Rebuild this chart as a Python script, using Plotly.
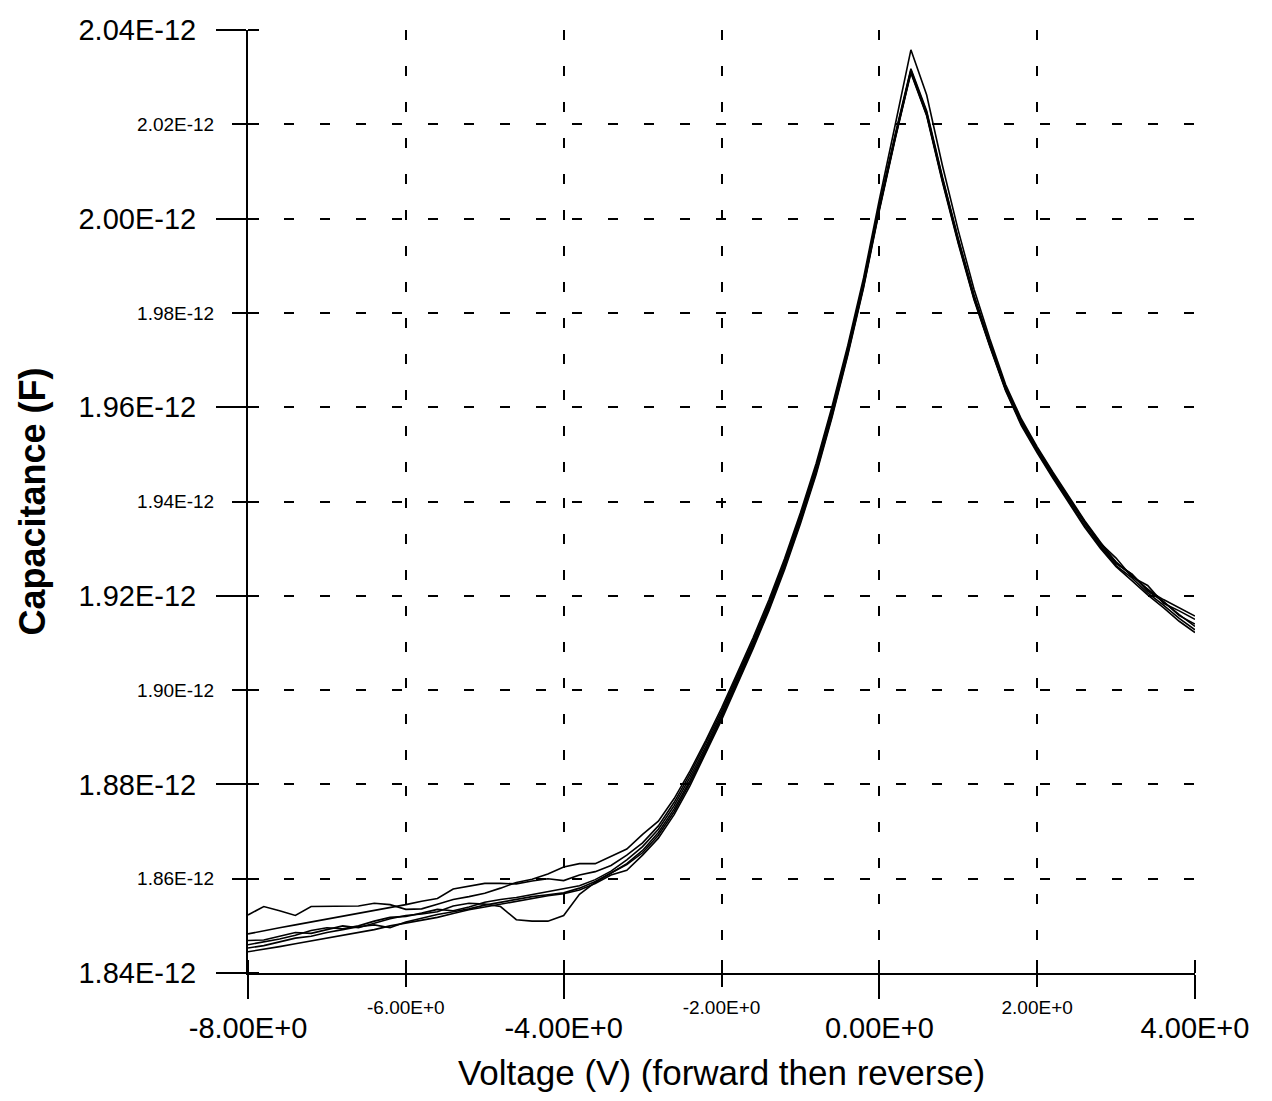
import plotly.graph_objects as go

# Bias voltage sweep (V)
voltage = [
    -8.0, -7.8, -7.6, -7.4, -7.2, -7.0, -6.8, -6.6, -6.4, -6.2,
    -6.0, -5.8, -5.6, -5.4, -5.2, -5.0, -4.8, -4.6, -4.4, -4.2,
    -4.0, -3.8, -3.6, -3.4, -3.2, -3.0, -2.8, -2.6, -2.4, -2.2,
    -2.0, -1.8, -1.6, -1.4, -1.2, -1.0, -0.8, -0.6, -0.4, -0.2,
    0.0, 0.2, 0.4, 0.6, 0.8, 1.0, 1.2, 1.4, 1.6, 1.8,
    2.0, 2.2, 2.4, 2.6, 2.8, 3.0, 3.2, 3.4, 3.6, 3.8, 4.0,
]

# Measured capacitance for each sweep, in pF
sweep_1 = [
    1.8523, 1.8541, 1.8532, 1.8522, 1.8541, 1.8541, 1.8541, 1.8542, 1.8548, 1.8545,
    1.8535, 1.8536, 1.8546, 1.8556, 1.8562, 1.8569, 1.8580, 1.8592, 1.8599, 1.8610,
    1.8625, 1.8632, 1.8632, 1.8648, 1.8663, 1.8694, 1.8722, 1.8770, 1.8828, 1.8893,
    1.8962, 1.9036, 1.9111, 1.9191, 1.9279, 1.9376, 1.9481, 1.9601, 1.9731, 1.9874,
    2.0040, 2.0198, 2.0358, 2.0262, 2.0112, 1.9975, 1.9850, 1.9745, 1.9648, 1.9575,
    1.9516, 1.9462, 1.9410, 1.9360, 1.9314, 1.9270, 1.9246, 1.9212, 1.9192, 1.9174, 1.9157,
]
sweep_2 = [
    1.8483, 1.8490, 1.8496, 1.8502, 1.8508, 1.8514, 1.8520, 1.8526, 1.8532, 1.8538,
    1.8545, 1.8552, 1.8558, 1.8578, 1.8584, 1.8590, 1.8590, 1.8589, 1.8595, 1.8600,
    1.8596, 1.8608, 1.8615, 1.8628, 1.8650, 1.8676, 1.8712, 1.8762, 1.8822, 1.8887,
    1.8956, 1.9030, 1.9105, 1.9185, 1.9273, 1.9370, 1.9475, 1.9595, 1.9725, 1.9866,
    2.0029, 2.0178, 2.0318, 2.0228, 2.0088, 1.9958, 1.9838, 1.9738, 1.9643, 1.9571,
    1.9513, 1.9459, 1.9407, 1.9357, 1.9312, 1.9280, 1.9240, 1.9222, 1.9184, 1.9168, 1.9150,
]
sweep_3 = [
    1.8469, 1.8470, 1.8478, 1.8486, 1.8484, 1.8492, 1.8500, 1.8496, 1.8505, 1.8515,
    1.8522, 1.8525, 1.8530, 1.8542, 1.8548, 1.8546, 1.8541, 1.8513, 1.8510, 1.8510,
    1.8522, 1.8567, 1.8592, 1.8612, 1.8632, 1.8660, 1.8698, 1.8748, 1.8808, 1.8875,
    1.8945, 1.9020, 1.9096, 1.9176, 1.9264, 1.9362, 1.9467, 1.9587, 1.9717, 1.9859,
    2.0022, 2.0172, 2.0313, 2.0222, 2.0082, 1.9952, 1.9832, 1.9732, 1.9638, 1.9566,
    1.9509, 1.9455, 1.9406, 1.9358, 1.9306, 1.9268, 1.9246, 1.9210, 1.9188, 1.9158, 1.9140,
]
sweep_4 = [
    1.8460, 1.8466, 1.8472, 1.8480, 1.8490, 1.8496, 1.8494, 1.8500, 1.8510, 1.8518,
    1.8520, 1.8527, 1.8535, 1.8532, 1.8540, 1.8550, 1.8556, 1.8560, 1.8566, 1.8572,
    1.8578, 1.8585, 1.8598, 1.8616, 1.8640, 1.8668, 1.8705, 1.8755, 1.8815, 1.8880,
    1.8950, 1.9025, 1.9100, 1.9180, 1.9268, 1.9365, 1.9470, 1.9590, 1.9720, 1.9862,
    2.0025, 2.0175, 2.0315, 2.0225, 2.0085, 1.9955, 1.9835, 1.9735, 1.9640, 1.9568,
    1.9510, 1.9456, 1.9405, 1.9355, 1.9310, 1.9272, 1.9242, 1.9214, 1.9186, 1.9160, 1.9135,
]
sweep_5 = [
    1.8453, 1.8458, 1.8466, 1.8474, 1.8478, 1.8486, 1.8492, 1.8498, 1.8502, 1.8496,
    1.8508, 1.8516, 1.8524, 1.8530, 1.8536, 1.8544, 1.8550, 1.8556, 1.8562, 1.8566,
    1.8570, 1.8580, 1.8594, 1.8612, 1.8630, 1.8655, 1.8692, 1.8742, 1.8803, 1.8870,
    1.8941, 1.9016, 1.9092, 1.9172, 1.9260, 1.9357, 1.9462, 1.9582, 1.9713, 1.9856,
    2.0020, 2.0170, 2.0311, 2.0220, 2.0080, 1.9950, 1.9830, 1.9731, 1.9637, 1.9564,
    1.9506, 1.9452, 1.9400, 1.9350, 1.9304, 1.9264, 1.9238, 1.9206, 1.9180, 1.9152, 1.9128,
]
sweep_6 = [
    1.8445, 1.8450, 1.8456, 1.8462, 1.8468, 1.8474, 1.8480, 1.8486, 1.8492, 1.8500,
    1.8506, 1.8512, 1.8518, 1.8526, 1.8534, 1.8540, 1.8546, 1.8552, 1.8558, 1.8564,
    1.8568, 1.8576, 1.8590, 1.8608, 1.8618, 1.8650, 1.8686, 1.8736, 1.8797, 1.8865,
    1.8936, 1.9012, 1.9088, 1.9168, 1.9256, 1.9353, 1.9458, 1.9578, 1.9710, 1.9853,
    2.0017, 2.0168, 2.0309, 2.0218, 2.0077, 1.9947, 1.9828, 1.9729, 1.9635, 1.9561,
    1.9503, 1.9449, 1.9397, 1.9346, 1.9301, 1.9262, 1.9232, 1.9202, 1.9175, 1.9146, 1.9122,
]
sweeps = [sweep_1, sweep_2, sweep_3, sweep_4, sweep_5, sweep_6]

# Axis ticks: labelled in two sizes, alternating
x_major_vals = [-8, -4, 0, 4]
x_major_text = ["-8.00E+0", "-4.00E+0", "0.00E+0", "4.00E+0"]
x_minor_vals = [-6, -2, 2]
x_minor_text = ["-6.00E+0", "-2.00E+0", "2.00E+0"]

y_major_pf = [1.84, 1.88, 1.92, 1.96, 2.00, 2.04]
y_major_text = ["1.84E-12", "1.88E-12", "1.92E-12", "1.96E-12", "2.00E-12", "2.04E-12"]
y_minor_pf = [1.86, 1.90, 1.94, 1.98, 2.02]
y_minor_text = ["1.86E-12", "1.90E-12", "1.94E-12", "1.98E-12", "2.02E-12"]

PF = 1e-12
FONT = "Liberation Sans, Arial, Helvetica, sans-serif"
X_RANGE = [-8, 4]
Y_RANGE = [1.84 * PF, 2.04 * PF]

fig = go.Figure()
for s in sweeps:
    fig.add_trace(go.Scatter(
        x=voltage, y=[c * PF for c in s], mode="lines",
        line=dict(color="black", width=1.6), showlegend=False,
        hoverinfo="skip",
    ))

# Empty trace that hosts the overlaid axes carrying the small labels
fig.add_trace(go.Scatter(x=[], y=[], xaxis="x2", yaxis="y2", showlegend=False))

grid = dict(showgrid=True, gridcolor="black", gridwidth=1.6, griddash="10px,26px")


def stub(vals, length):
    # short tick marks pointing into the plot, so each tick crosses the axis line
    return dict(tickmode="array", tickvals=vals, ticks="inside", ticklen=length,
                tickwidth=1.6, tickcolor="black", showgrid=False)


fig.update_layout(
    width=1272, height=1101,
    margin=dict(l=248, r=77, t=30, b=128),
    paper_bgcolor="white", plot_bgcolor="white",
    font=dict(family=FONT, color="black"),
    xaxis=dict(
        range=X_RANGE, tickmode="array", tickvals=x_major_vals, ticktext=x_major_text,
        ticks="outside", ticklen=24, tickwidth=1.6, tickcolor="black",
        tickfont=dict(size=29, family=FONT), ticklabelstandoff=4,
        showline=True, linecolor="black", linewidth=2, zeroline=False,
        minor=stub(x_minor_vals, 13),
        title=dict(text="Voltage (V) (forward then reverse)",
                   font=dict(size=35, family=FONT), standoff=18),
        **grid,
    ),
    xaxis2=dict(
        range=X_RANGE, overlaying="x", anchor="y", side="bottom",
        tickmode="array", tickvals=x_minor_vals, ticktext=x_minor_text,
        ticks="outside", ticklen=13, tickwidth=1.6, tickcolor="black",
        tickfont=dict(size=19, family=FONT), ticklabelstandoff=4,
        minor=stub(x_major_vals, 13),
        showline=False, zeroline=False, **grid,
    ),
    yaxis=dict(
        range=Y_RANGE, tickmode="array", tickvals=[v * PF for v in y_major_pf],
        ticktext=y_major_text,
        ticks="outside", ticklen=30, tickwidth=1.6, tickcolor="black",
        tickfont=dict(size=29, family=FONT), ticklabelstandoff=14,
        showline=True, linecolor="black", linewidth=2, zeroline=False,
        minor=stub([v * PF for v in y_minor_pf], 11),
        title=dict(text="<b>Capacitance (F)</b>", font=dict(size=36, family=FONT), standoff=22),
        **grid,
    ),
    yaxis2=dict(
        range=Y_RANGE, overlaying="y", anchor="x", side="left",
        tickmode="array", tickvals=[v * PF for v in y_minor_pf], ticktext=y_minor_text,
        ticks="outside", ticklen=15, tickwidth=1.6, tickcolor="black",
        tickfont=dict(size=19, family=FONT), ticklabelstandoff=14,
        minor=stub([v * PF for v in y_major_pf], 11),
        showline=False, zeroline=False, **grid,
    ),
)

fig.write_html("out.html")
